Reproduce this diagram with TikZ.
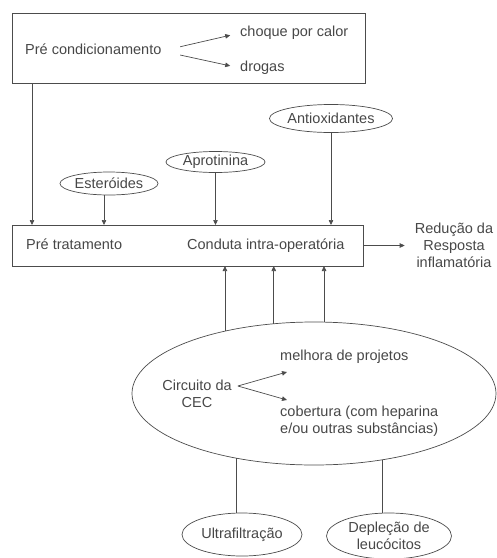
\documentclass[tikz,border=0pt]{standalone}
\usepackage{fontspec}
\setmainfont{Liberation Sans}
\usepackage{tikz}
\usetikzlibrary{arrows.meta,shapes.geometric}

\begin{document}
\begin{tikzpicture}[>={Triangle[length=5pt,width=4.5pt]}, x=1pt, y=-1pt,
    every node/.style={font=\fontsize{14.5}{17}\selectfont, text=black!72},
    box/.style={draw=black!70, line width=0.8pt, inner sep=0pt, outer sep=0pt},
    oval/.style={ellipse, draw=black!70, line width=0.7pt, inner sep=0pt, outer sep=0pt},
    lbl/.style={anchor=west, inner sep=0pt, text height=10pt, text depth=3pt},
    link/.style={draw=black!70, line width=0.7pt}]
    \useasboundingbox (0,0) rectangle (497,558);

    % caixas principais
    \node[box, minimum width=353pt, minimum height=70pt] (precond) at (188.5,48) {};
    \node[box, minimum width=351pt, minimum height=41pt] (main) at (187.5,245.5) {};

    % pre condicionamento
    \node[lbl] (precondtxt) at (25,51) {Pré condicionamento};
    \node[lbl] (choque) at (240,33) {choque por calor};
    \node[lbl] (drogas) at (240,68) {drogas};
    \draw[link, ->, shorten <=19pt, shorten >=10pt] (precondtxt.east) -- (choque.west);
    \draw[link, ->, shorten <=19pt, shorten >=10pt] (precondtxt.east) -- (drogas.west);

    % textos da caixa de baixo
    \node[lbl] (pretrat) at (26,246) {Pré tratamento};
    \node[lbl] (conduta) at (187,246) {Conduta intra-operatória};
    \node[align=center, inner sep=2pt] (reduc) at (454,245.5) {Redução da\\Resposta\\inflamatória};
    \draw[link, ->, shorten >=8pt] (main.east) -- (reduc.west);

    % agentes
    \node[oval, minimum width=98pt, minimum height=23pt] (ester) at (109,183.5) {Esteróides};
    \node[oval, minimum width=99pt, minimum height=21pt] (apro) at (215.5,162) {Aprotinina};
    \node[oval, minimum width=121pt, minimum height=28pt] (antiox) at (331,118.5) {Antioxidantes};
    \coordinate (e1) at ([xshift=-5pt]ester.south);
    \coordinate (p1) at ([xshift=20pt]precond.south west);

    \draw[link, ->] (p1) -- (p1 |- main.north);
    \draw[link, ->] (e1) -- (e1 |- main.north);
    \draw[link, ->] (apro) -- (apro |- main.north);
    \draw[link, ->] (antiox) -- (antiox |- main.north);

    % circuito da CEC
    \node[oval, minimum width=364pt, minimum height=143pt] (cec) at (314,393.5) {};
    \node[align=center, inner sep=0pt] (cectxt) at (197,394) {Circuito da\\CEC};
    \node[lbl] (melhora) at (280,357) {melhora de projetos};
    \node[anchor=west, align=left, inner sep=0pt] (cobert) at (280,421) {cobertura (com heparina\\e/ou outras substâncias)};
    \coordinate (c0) at ([xshift=6pt, yshift=8pt]cectxt.east);
    \coordinate (c1) at ([xshift=7pt, yshift=-15pt]melhora.west);
    \coordinate (c2) at ([xshift=7pt, yshift=21pt]cobert.west);
    \draw[link, ->] (c0) -- (c1);
    \draw[link, ->] (c0) -- (c2);

    \foreach \ang in {145.8, 120.5, 82.8}
      \draw[link, ->] (cec.\ang) -- (cec.\ang |- main.south);

    % ultrafiltracao e deplecao
    \node[oval, minimum width=120pt, minimum height=43pt] (ultra) at (242,534.5) {Ultrafiltração};
    \node[oval, align=center, minimum width=125pt, minimum height=46pt] (deple) at (389,536) {Depleção de\\leucócitos};
    \draw[link] (cec.220.5) -- (cec.220.5 |- ultra.north);
    \draw[link] (cec.316.2) -- (cec.316.2 |- deple.north);
\end{tikzpicture}
\end{document}
